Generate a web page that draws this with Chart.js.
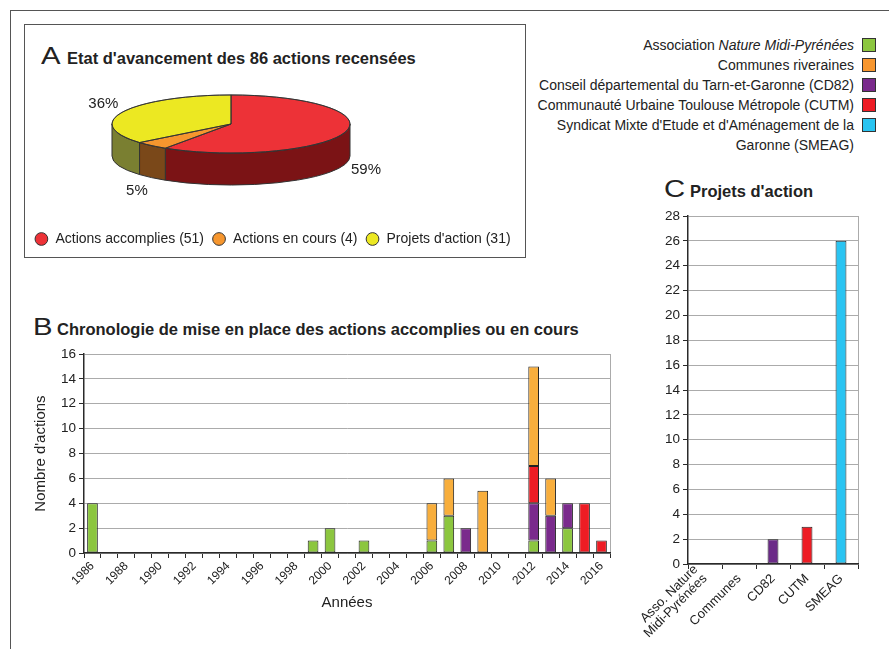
<!DOCTYPE html>
<html>
<head>
<meta charset="utf-8">
<script src="https://cdn.jsdelivr.net/npm/chart.js@4/dist/chart.umd.min.js"></script>
<style>
  html, body { margin: 0; padding: 0; background: #fff; }
  body { width: 889px; height: 649px; position: relative; overflow: hidden;
         font-family: "Liberation Sans", Arial, sans-serif; color: #222; }
  .frame { position: absolute; left: 10px; top: 10px; width: 900px; height: 700px;
           border-top: 1.5px solid #555; border-left: 1.5px solid #555; }
  .box { position: absolute; left: 24px; top: 24px; width: 500px; height: 232px;
         border: 1.5px solid #555; }
  canvas { position: absolute; }
  .title { position: absolute; font-size: 24px; line-height: 24px; white-space: nowrap; }
  .title .big { display: inline-block; transform: scaleX(1.22); transform-origin: left; }
  .title .txt { font-size: 16.5px; font-weight: bold; }
  .legend { position: absolute; right: 13px; top: 35px; font-size: 14px; }
  .legend .row { display: flex; justify-content: flex-end; align-items: flex-start;
                 line-height: 20px; text-align: right; }
  .legend .row span.lbl { white-space: nowrap; }
  .legend .sw { width: 12px; height: 12px; border: 1px solid #333; margin-left: 8px; margin-top: 3px; }
</style>
</head>
<body>
<div class="frame"></div>
<div class="box"></div>

<div class="title" style="left:41px; top:44px;"><span class="big" style="width:26px">A</span><span class="txt">Etat d'avancement des 86 actions recensées</span></div>
<div class="title" style="left:33px; top:315px;"><span class="big" style="width:24px">B</span><span class="txt">Chronologie de mise en place des actions accomplies ou en cours</span></div>
<div class="title" style="left:664px; top:177px;"><span class="big" style="width:26px">C</span><span class="txt">Projets d'action</span></div>

<div class="legend" id="orgLegend"></div>

<canvas id="chartA" width="499" height="230" style="left:26px; top:26px;"></canvas>
<canvas id="chartB" width="605" height="275" style="left:20px; top:340px;"></canvas>
<canvas id="chartC" width="265" height="449" style="left:620px; top:200px;"></canvas>

<script>
// ---- data ----
const pieLabels = ['Actions accomplies (51)', 'Actions en cours (4)', "Projets d'action (31)"];
const pieValues = [51, 4, 31];
const pieTopColors = ['#ed3237', '#f6962e', '#ece822'];
const pieSideColors = ['#7b1315', '#7a4819', '#7a7f31'];

const years = ['1986', '1987', '1988', '1989', '1990', '1991', '1992', '1993', '1994', '1995',
               '1996', '1997', '1998', '1999', '2000', '2001', '2002', '2003', '2004', '2005',
               '2006', '2007', '2008', '2009', '2010', '2011', '2012', '2013', '2014', '2015', '2016'];
const _ = null;
//                    86 87 88 89 90 91 92 93 94 95 96 97 98 99 00 01 02 03 04 05 06 07 08 09 10 11 12 13 14 15 16
const natureByYear   = [4, _, _, _, _, _, _, _, _, _, _, _, _, 1, 2, _, 1, _, _, _, 1, 3, _, _, _, _, 1, _, 2, _, _];
const cd82ByYear     = [_, _, _, _, _, _, _, _, _, _, _, _, _, _, _, _, _, _, _, _, _, _, 2, _, _, _, 3, 3, 2, _, _];
const cutmByYear     = [_, _, _, _, _, _, _, _, _, _, _, _, _, _, _, _, _, _, _, _, _, _, _, _, _, _, 3, _, _, 4, 1];
const communesByYear = [_, _, _, _, _, _, _, _, _, _, _, _, _, _, _, _, _, _, _, _, 3, 3, _, 5, _, _, 8, 3, _, _, _];

const orgNames = ['Association <i>Nature Midi-Pyrénées</i>', 'Communes riveraines',
                  'Conseil départemental du Tarn-et-Garonne (CD82)',
                  'Communauté Urbaine Toulouse Métropole (CUTM)',
                  "Syndicat Mixte d'Etude et d'Aménagement de la<br>Garonne (SMEAG)"];
const orgColors = ['#8cc63f', '#f7962e', '#7a2a8c', '#ed1c24', '#29c4f1'];

const projectCategories = [['Asso. Nature', 'Midi-Pyrénées'], 'Communes', 'CD82', 'CUTM', 'SMEAG'];
const projectValues = [0, 0, 2, 3, 26];
const projectColors = ['#8cc63f', '#f7962e', '#6b2a87', '#ed1c24', '#2ac4f2'];

// ---- styles ----
const AXIS = '#2a2a2a';
const GRID = '#ababab';
const EDGE = '#333';
const ORANGE_B = '#f8ae3c';

Chart.defaults.font.family = '"Liberation Sans", Arial, sans-serif';
Chart.defaults.color = '#222';

// legend for B and C
document.getElementById('orgLegend').innerHTML = orgNames.map((n, i) =>
  `<div class="row"><span class="lbl">${n}</span><div class="sw" style="background:${orgColors[i]}"></div></div>`
).join('');

// ---- A : pseudo 3D pie ----
const PIE_CX = 205, PIE_CY = 98, SQUASH = 0.244, DEPTH = 32;

const pie3d = {
  id: 'pie3d',
  beforeDatasetsDraw(chart) {
    const ctx = chart.ctx;
    const arcs = chart.getDatasetMeta(0).data;
    const rx = arcs[0].outerRadius, ry = rx * SQUASH;
    ctx.save();
    ctx.lineWidth = 1;
    ctx.strokeStyle = EDGE;
    arcs.forEach((a, i) => {
      const s = Math.max(a.startAngle, 0), e = Math.min(a.endAngle, Math.PI);
      if (s >= e) return;
      ctx.beginPath();
      ctx.ellipse(PIE_CX, PIE_CY, rx, ry, 0, s, e);
      ctx.lineTo(PIE_CX + rx * Math.cos(e), PIE_CY + ry * Math.sin(e) + DEPTH);
      ctx.ellipse(PIE_CX, PIE_CY + DEPTH, rx, ry, 0, e, s, true);
      ctx.closePath();
      ctx.fillStyle = pieSideColors[i];
      ctx.fill();
      ctx.stroke();
    });
    ctx.restore();
    // squash the library's own pie into the top face
    ctx.save();
    ctx.translate(PIE_CX, PIE_CY);
    ctx.scale(1, SQUASH);
    ctx.translate(-arcs[0].x, -arcs[0].y);
  },
  afterDatasetsDraw(chart) {
    const ctx = chart.ctx;
    ctx.restore();
    const arcs = chart.getDatasetMeta(0).data;
    const rx = arcs[0].outerRadius, ry = rx * SQUASH;
    const total = pieValues.reduce((s, v) => s + v, 0);
    ctx.save();
    ctx.lineWidth = 1;
    ctx.strokeStyle = EDGE;
    arcs.forEach(a => {
      ctx.beginPath();
      ctx.moveTo(PIE_CX, PIE_CY);
      ctx.lineTo(PIE_CX + rx * Math.cos(a.startAngle), PIE_CY + ry * Math.sin(a.startAngle));
      ctx.stroke();
    });
    ctx.beginPath();
    ctx.ellipse(PIE_CX, PIE_CY, rx, ry, 0, 0, Math.PI * 2);
    ctx.stroke();
    // percentage labels
    ctx.fillStyle = '#222';
    ctx.font = '15px "Liberation Sans", Arial, sans-serif';
    ctx.textAlign = 'center';
    ctx.textBaseline = 'middle';
    arcs.forEach((a, i) => {
      const mid = (a.startAngle + a.endAngle) / 2;
      const sn = Math.sin(mid);
      const x = PIE_CX + Math.cos(mid) * (rx + 22);
      const y = PIE_CY + sn * (ry + 18) + (sn > 0 ? DEPTH : 0);
      ctx.fillText(Math.round(pieValues[i] / total * 100) + '%', x, y);
    });
    ctx.restore();
  }
};

new Chart(document.getElementById('chartA'), {
  type: 'pie',
  data: {
    labels: pieLabels,
    datasets: [{ data: pieValues, backgroundColor: pieTopColors, borderColor: EDGE, borderWidth: 1, clip: false }]
  },
  options: {
    responsive: false, animation: false, events: [],
    radius: 119,
    layout: { padding: { left: 0, right: 6, top: 0, bottom: 0 } },
    plugins: {
      legend: {
        position: 'bottom',
        labels: { usePointStyle: true, pointStyle: 'circle', boxWidth: 14, boxHeight: 9,
                  padding: 8, font: { size: 14 }, color: '#222' }
      },
      tooltip: { enabled: false }
    }
  },
  plugins: [pie3d]
});

// ---- shared axis pieces ----
const edgeOnly = c => c.type === 'scale' ? GRID : 'rgba(0,0,0,0)';

// two-line category labels: centre the block of lines on the tick
const centreMultiline = {
  id: 'centreMultiline',
  beforeDraw(chart) {
    chart.scales.x.getLabelItems(chart.chartArea).forEach(it => {
      if (Array.isArray(it.label)) it.textOffset = -it.font.lineHeight * (it.label.length - 1) / 2;
    });
  }
};

// ---- B : stacked chronology ----
const barStyle = { borderColor: '#222', borderWidth: 1, borderSkipped: false, categoryPercentage: 1, barPercentage: 0.63 };

new Chart(document.getElementById('chartB'), {
  type: 'bar',
  data: {
    labels: years,
    datasets: [
      { label: 'Association Nature Midi-Pyrénées', data: natureByYear, backgroundColor: orgColors[0], ...barStyle },
      { label: 'CD82', data: cd82ByYear, backgroundColor: orgColors[2], ...barStyle },
      { label: 'CUTM', data: cutmByYear, backgroundColor: orgColors[3], ...barStyle },
      { label: 'Communes riveraines', data: communesByYear, backgroundColor: ORANGE_B, ...barStyle }
    ]
  },
  options: {
    responsive: false, animation: false, events: [],
    layout: { padding: { top: 14, right: 15, left: 0, bottom: 0 } },
    plugins: { legend: { display: false }, tooltip: { enabled: false } },
    scales: {
      x: {
        stacked: true,
        grid: { offset: true, color: edgeOnly, tickColor: AXIS, tickLength: 5 },
        border: { color: AXIS, width: 1.5 },
        ticks: {
          autoSkip: false, minRotation: 45, maxRotation: 45, padding: 1,
          font: { size: 12 }, color: '#222',
          callback: function (v, i) { return i % 2 === 0 ? this.getLabelForValue(v) : ''; }
        },
        title: { display: true, text: 'Années', font: { size: 15 }, color: '#222', padding: { top: 0, bottom: 3 } },
        afterFit: s => { s.height = 62; }
      },
      y: {
        stacked: true, min: 0, max: 16,
        ticks: { stepSize: 2, font: { size: 13.5 }, color: '#222', padding: 3 },
        grid: { color: GRID, tickColor: AXIS, tickLength: 5 },
        border: { color: AXIS, width: 1.5 },
        title: { display: true, text: "Nombre d'actions", font: { size: 15 }, color: '#222', padding: { top: 12, bottom: 0 } },
        afterFit: s => { s.width = 64; }
      }
    }
  }
});

// ---- C : action projects ----
new Chart(document.getElementById('chartC'), {
  type: 'bar',
  data: {
    labels: projectCategories,
    datasets: [{
      label: "Projets d'action", data: projectValues, backgroundColor: projectColors,
      borderColor: '#222', borderWidth: 1, borderSkipped: false, categoryPercentage: 1, barPercentage: 0.32
    }]
  },
  options: {
    responsive: false, animation: false, events: [],
    layout: { padding: { top: 16, right: 27, left: 0, bottom: 0 } },
    plugins: { legend: { display: false }, tooltip: { enabled: false } },
    scales: {
      x: {
        grid: { offset: true, color: edgeOnly, tickColor: AXIS, tickLength: 5 },
        border: { color: AXIS, width: 1.5 },
        ticks: { autoSkip: false, minRotation: 45, maxRotation: 45, padding: 3,
                 font: { size: 13, lineHeight: 1.0 }, color: '#222' },
        afterFit: s => { s.height = 85; }
      },
      y: {
        min: 0, max: 28,
        ticks: { stepSize: 2, font: { size: 13.5 }, color: '#222', padding: 3 },
        grid: { color: GRID, tickColor: AXIS, tickLength: 5 },
        border: { color: AXIS, width: 1.5 },
        afterFit: s => { s.width = 68; }
      }
    }
  },
  plugins: [centreMultiline]
});
</script>
</body>
</html>
